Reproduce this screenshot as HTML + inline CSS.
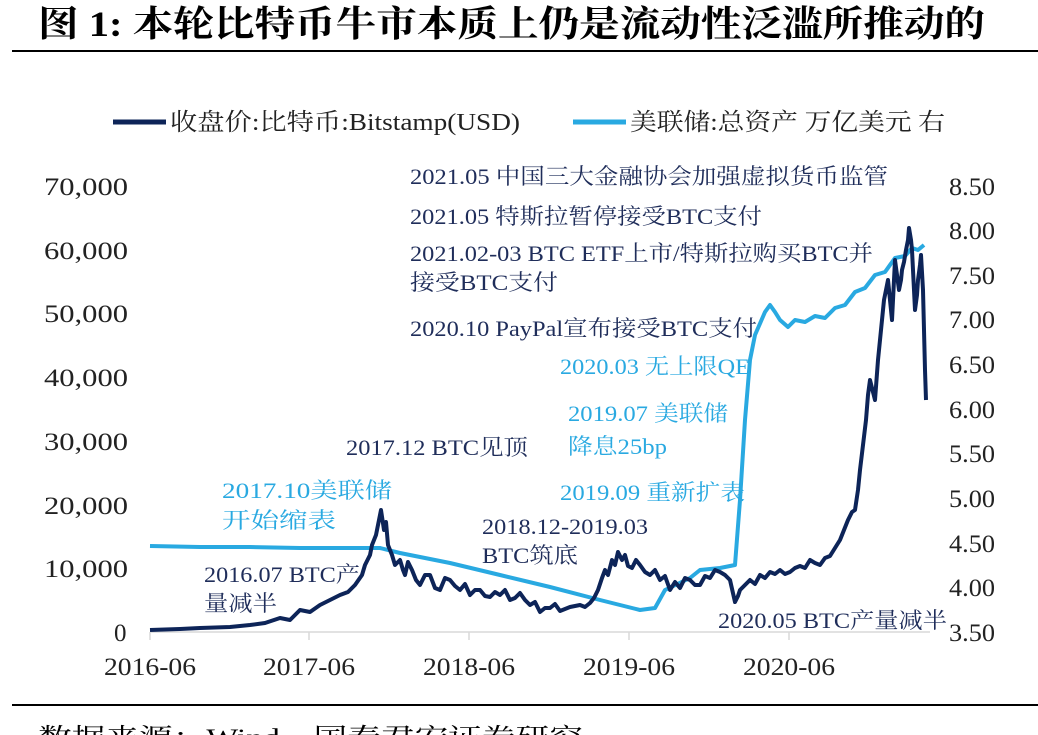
<!DOCTYPE html>
<html><head><meta charset="utf-8"><style>
body{margin:0;width:1038px;height:735px;background:#fff;overflow:hidden;position:relative}
</style></head><body>
<svg width="1038" height="735" style="position:absolute;left:0;top:0" font-family="Liberation Serif,Noto Serif CJK SC,serif">
<text x="38" y="36" font-size="36" font-weight="bold" textLength="947" lengthAdjust="spacingAndGlyphs">图 1:  本轮比特币牛市本质上仍是流动性泛滥所推动的</text>
<rect x="12" y="50" width="1026" height="2" fill="#000"/>
<rect x="12" y="704" width="1026" height="2" fill="#000"/>
<text x="38" y="746" font-size="25" textLength="545" lengthAdjust="spacingAndGlyphs">数据来源：Wind，国泰君安证券研究</text>
<line x1="113" y1="122" x2="166" y2="122" stroke="#0d2458" stroke-width="5"/>
<text x="170" y="130" font-size="24" fill="#222" textLength="350" lengthAdjust="spacingAndGlyphs">收盘价:比特币:Bitstamp(USD)</text>
<line x1="573" y1="122" x2="626" y2="122" stroke="#29a9e1" stroke-width="5"/>
<text x="630" y="130" font-size="24" fill="#222" textLength="315" lengthAdjust="spacingAndGlyphs">美联储:总资产 万亿美元 右</text>
<g font-size="25" fill="#222">
<text x="44" y="195" textLength="84" lengthAdjust="spacingAndGlyphs">70,000</text><text x="44" y="259" textLength="84" lengthAdjust="spacingAndGlyphs">60,000</text><text x="44" y="322" textLength="84" lengthAdjust="spacingAndGlyphs">50,000</text><text x="44" y="386" textLength="84" lengthAdjust="spacingAndGlyphs">40,000</text><text x="44" y="450" textLength="84" lengthAdjust="spacingAndGlyphs">30,000</text><text x="44" y="514" textLength="84" lengthAdjust="spacingAndGlyphs">20,000</text><text x="44" y="577" textLength="84" lengthAdjust="spacingAndGlyphs">10,000</text><text x="114" y="641">0</text>
</g>
<g font-size="25" fill="#222">
<text x="949" y="195" textLength="46" lengthAdjust="spacingAndGlyphs">8.50</text><text x="949" y="239" textLength="46" lengthAdjust="spacingAndGlyphs">8.00</text><text x="949" y="284" textLength="46" lengthAdjust="spacingAndGlyphs">7.50</text><text x="949" y="328" textLength="46" lengthAdjust="spacingAndGlyphs">7.00</text><text x="949" y="373" textLength="46" lengthAdjust="spacingAndGlyphs">6.50</text><text x="949" y="418" textLength="46" lengthAdjust="spacingAndGlyphs">6.00</text><text x="949" y="462" textLength="46" lengthAdjust="spacingAndGlyphs">5.50</text><text x="949" y="507" textLength="46" lengthAdjust="spacingAndGlyphs">5.00</text><text x="949" y="552" textLength="46" lengthAdjust="spacingAndGlyphs">4.50</text><text x="949" y="596" textLength="46" lengthAdjust="spacingAndGlyphs">4.00</text><text x="949" y="641" textLength="46" lengthAdjust="spacingAndGlyphs">3.50</text>
</g>
<line x1="150" y1="632" x2="930" y2="632" stroke="#d9d9d9" stroke-width="1.5"/>
<g stroke="#d9d9d9" stroke-width="1.5"><line x1="150" y1="632" x2="150" y2="640"/><line x1="309" y1="632" x2="309" y2="640"/><line x1="469" y1="632" x2="469" y2="640"/><line x1="629" y1="632" x2="629" y2="640"/><line x1="789" y1="632" x2="789" y2="640"/></g>
<g font-size="25" fill="#222">
<text x="104" y="675" textLength="92" lengthAdjust="spacingAndGlyphs">2016-06</text><text x="263" y="675" textLength="92" lengthAdjust="spacingAndGlyphs">2017-06</text><text x="423" y="675" textLength="92" lengthAdjust="spacingAndGlyphs">2018-06</text><text x="583" y="675" textLength="92" lengthAdjust="spacingAndGlyphs">2019-06</text><text x="743" y="675" textLength="92" lengthAdjust="spacingAndGlyphs">2020-06</text>
</g>
<polyline fill="none" stroke="#29a9e1" stroke-width="4" stroke-linejoin="round" points="150,546 200,547 250,547 300,548 380,548 400,553 450,563 500,575 550,587 600,600 640,610 655,608 665,590 690,578 700,570 720,568 735,565 740,500 745,420 750,360 755,335 765,312 770,305 775,312 780,320 788,327 795,320 805,322 815,316 825,318 835,308 845,305 855,292 865,288 875,275 885,272 895,258 905,256 912,248 918,250 924,245"/>
<polyline fill="none" stroke="#0d2458" stroke-width="4" stroke-linejoin="round" points="150,630 180,629 200,628 230,627 250,625 265,623 280,618 290,620 300,610 310,612 320,605 330,600 340,595 348,592 355,585 362,575 365,565 370,555 372,545 376,535 378,525 381,510 384,530 386,522 388,545 392,555 395,565 400,560 403,570 405,575 408,562 412,570 416,580 420,585 425,575 430,575 435,588 440,590 445,578 450,580 455,586 460,590 465,584 470,595 475,590 480,590 485,596 490,597 495,592 500,595 505,590 510,600 515,598 520,593 525,600 530,605 535,602 540,612 545,608 550,608 555,604 560,611 565,609 570,607 575,606 580,605 585,607 590,603 594,598 598,590 602,578 605,570 608,575 612,560 615,565 618,552 622,560 625,555 628,566 632,568 636,560 640,565 645,572 650,575 655,570 660,580 665,576 670,590 675,582 680,588 685,578 690,580 695,585 700,585 705,576 710,578 715,570 720,572 725,575 730,580 735,602 738,596 740,590 745,585 750,580 755,584 760,575 765,578 770,572 775,574 780,570 785,574 790,572 795,568 800,566 805,568 810,560 815,563 820,565 825,558 830,556 835,548 840,540 844,530 848,520 852,512 855,510 858,490 860,470 863,445 866,420 868,395 870,380 873,392 875,400 878,360 880,340 882,320 884,300 886,290 888,280 890,300 892,320 894,280 895,260 897,275 899,290 901,280 902,270 904,262 906,250 908,240 909,228 911,240 912,250 914,290 915,310 917,295 918,280 920,265 921,255 923,290 924,330 925,370 926,400"/>
<g font-size="22" fill="#1f2d5a">
<text x="410" y="184" textLength="478" lengthAdjust="spacingAndGlyphs">2021.05 中国三大金融协会加强虚拟货币监管</text>
<text x="410" y="224" textLength="352" lengthAdjust="spacingAndGlyphs">2021.05 特斯拉暂停接受BTC支付</text>
<text x="410" y="261" textLength="463" lengthAdjust="spacingAndGlyphs">2021.02-03 BTC ETF上市/特斯拉购买BTC并</text>
<text x="410" y="290" textLength="148" lengthAdjust="spacingAndGlyphs">接受BTC支付</text>
<text x="410" y="336" textLength="347" lengthAdjust="spacingAndGlyphs">2020.10 PayPal宣布接受BTC支付</text>
<text x="346" y="455" textLength="182" lengthAdjust="spacingAndGlyphs">2017.12 BTC见顶</text>
<text x="482" y="534" textLength="166" lengthAdjust="spacingAndGlyphs">2018.12-2019.03</text>
<text x="482" y="563" textLength="96" lengthAdjust="spacingAndGlyphs">BTC筑底</text>
<text x="204" y="582" textLength="156" lengthAdjust="spacingAndGlyphs">2016.07 BTC产</text>
<text x="204" y="611" textLength="73" lengthAdjust="spacingAndGlyphs">量减半</text>
<text x="718" y="628" textLength="229" lengthAdjust="spacingAndGlyphs">2020.05 BTC产量减半</text>
</g>
<g font-size="22" fill="#29a9e1">
<text x="560" y="374" textLength="190" lengthAdjust="spacingAndGlyphs">2020.03 无上限QE</text>
<text x="568" y="421" textLength="160" lengthAdjust="spacingAndGlyphs">2019.07 美联储</text>
<text x="568" y="454" textLength="99" lengthAdjust="spacingAndGlyphs">降息25bp</text>
<text x="560" y="500" textLength="185" lengthAdjust="spacingAndGlyphs">2019.09 重新扩表</text>
<text x="222" y="498" textLength="170" lengthAdjust="spacingAndGlyphs">2017.10美联储</text>
<text x="222" y="528" textLength="114" lengthAdjust="spacingAndGlyphs">开始缩表</text>
</g>
</svg>
</body></html>
